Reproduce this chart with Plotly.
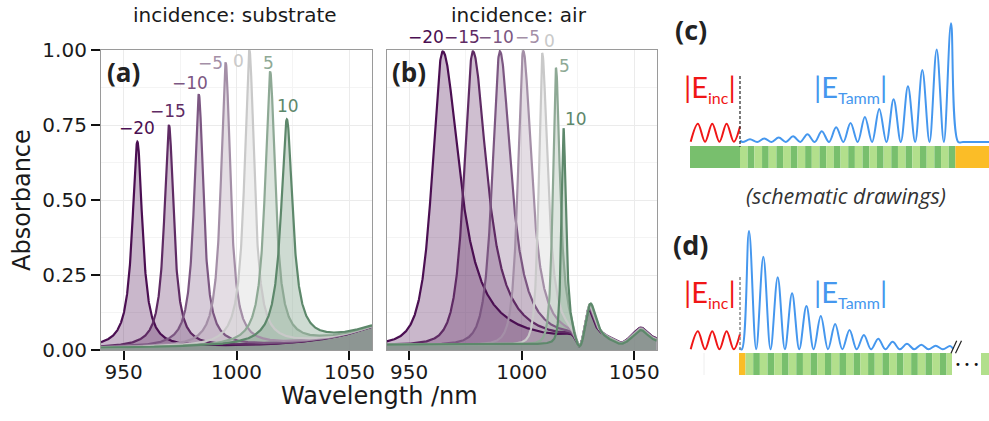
import numpy as np
import plotly.graph_objects as go

# ---------------- data ----------------
angles = [-20, -15, -10, -5, 0, 5, 10]
angle_labels = ["−20", "−15", "−10", "−5", "0", "5", "10"]
line_colors = ["#4b0f52", "#5f2b64", "#7c5782", "#a48fa7", "#c9c9c9", "#8ea995", "#5d886b"]

x_ticks = [950, 1000, 1050]
x_minor = [975, 1025]
y_ticks = [0.0, 0.25, 0.5, 0.75, 1.0]
y_ticktext = ["0.00", "0.25", "0.50", "0.75", "1.00"]
y_minor = [0.125, 0.375, 0.625, 0.875]

# (a) incidence: substrate  -- resonance
sub_center = [956.1, 970.1, 983.3, 995.2, 1005.7, 1014.9, 1022.3]
sub_peak = [0.694, 0.750, 0.852, 0.958, 1.000, 0.928, 0.769]
sub_hwhm = [2.7, 2.5, 2.5, 2.5, 2.6, 2.7, 3.1]
sub_base = 0.004
sub_bg_center, sub_bg_width, sub_bg_height = 1075.0, 25.0, 0.10

# (b) incidence: air
air_center = [964.9, 978.3, 990.3, 1000.7, 1009.1, 1015.2, 1018.6]
air_peak = [0.995, 0.995, 0.995, 0.995, 0.987, 0.936, 0.731]
air_width_left = [8.5, 7.0, 6.0, 4.2, 2.7, 2.4, 1.7]
air_width_right = [9.0, 7.5, 6.0, 4.5, 3.0, 2.2, 1.3]
air_side_center = [1029.3, 1029.5, 1029.7, 1029.9, 1030.1, 1030.3, 1030.6]
air_side_height = [0.11, 0.11, 0.11, 0.11, 0.115, 0.12, 0.13]
air_side_width = 3.0
air_base = 0.018
air_notch1_center, air_notch1_depth, air_notch1_width = 1025.7, 0.85, 2.5
air_notch2_center, air_notch2_depth, air_notch2_width = 1044.5, 0.5, 4.0
air_bump_center, air_bump_height, air_bump_width = 1053.0, 0.045, 4.0

# schematic field envelopes (relative peak heights)
c_field_rel = [0.023, 0.029, 0.037, 0.048, 0.065, 0.090, 0.124, 0.160, 0.211,
               0.279, 0.361, 0.470, 0.606, 0.780, 1.000]
d_field_rel = [1.000, 0.783, 0.609, 0.473, 0.366, 0.281, 0.214, 0.163, 0.121,
               0.090, 0.064, 0.047, 0.039, 0.030, 0.028]
inc_wave_rel = [0, 1, 0, 1, 0, 1, 0, 0.85]

# ---------------- spectra ----------------
wl = np.arange(940.0, 1060.001, 0.1)


def lor(x, c, g):
    return 1.0 / (1.0 + ((x - c) / g) ** 2)


def sub_bg(x):
    return sub_bg_height * lor(x, sub_bg_center, sub_bg_width)


sub_curves = []
for c, p, g in zip(sub_center, sub_peak, sub_hwhm):
    a = p - sub_base - sub_bg(c)
    sub_curves.append(sub_base + sub_bg(wl) + a * lor(wl, c, g))

notch = (1 - air_notch1_depth * np.exp(-((wl - air_notch1_center) / air_notch1_width) ** 2)) * \
        (1 - air_notch2_depth * np.exp(-((wl - air_notch2_center) / air_notch2_width) ** 2))
bump = air_bump_height * lor(wl, air_bump_center, air_bump_width)
air_curves = []
for c, p, gl, gr, sc, sh in zip(air_center, air_peak, air_width_left, air_width_right,
                                air_side_center, air_side_height):
    main = np.where(wl < c, lor(wl, c, gl) ** 2, lor(wl, c, gr))
    y = (air_base + (p - air_base) * main + sh * lor(wl, sc, air_side_width)) * notch + bump
    air_curves.append(y)


def rgba(hexc, a):
    h = hexc.lstrip("#")
    return "rgba(%d,%d,%d,%.2f)" % (int(h[0:2], 16), int(h[2:4], 16), int(h[4:6], 16), a)


fig = go.Figure()

for curves, xa, ya in [(sub_curves, "x", "y"), (air_curves, "x2", "y2")]:
    for y, col in zip(curves, line_colors):
        fig.add_trace(go.Scatter(x=wl, y=y, mode="lines", line=dict(width=0),
                                 fill="tozeroy", fillcolor=rgba(col, 0.30),
                                 xaxis=xa, yaxis=ya, hoverinfo="skip", showlegend=False))
    for y, col in zip(curves, line_colors):
        fig.add_trace(go.Scatter(x=wl, y=y, mode="lines", line=dict(width=2.2, color=col),
                                 xaxis=xa, yaxis=ya, showlegend=False))

# ---------------- schematic (pixel-space overlay axes) ----------------
period = 14.36
blue = "#4597ee"
red = "#f01616"
dark_g = "#78bf6d"
light_g = "#b2df8c"
orange = "#fbbd27"


def field_curve(x_first_peak, base_y, scale, rel, x_start, y_start, x_end_pts, y_end_pts):
    xs = [x_start, x_first_peak - period / 2]
    ys = [y_start, base_y]
    for i, r in enumerate(rel):
        xp = x_first_peak + i * period
        xs += [xp, xp + period / 2]
        ys += [base_y - scale * r, base_y]
    xs += x_end_pts
    ys += y_end_pts
    return xs, ys


# (c)
cx, cy = field_curve(750.0, 142.0, 118.7, c_field_rel, 740.0, 140.6, [963, 989], [142, 142])
fig.add_trace(go.Scatter(x=cx, y=cy, mode="lines", line=dict(color=blue, width=2, shape="spline", smoothing=1.0),
                         xaxis="x3", yaxis="y3", showlegend=False, hoverinfo="skip"))
# (d)
dx, dy = field_curve(749.0, 349.3, 118.3, d_field_rel, 739.3, 348.3, [], [])
fig.add_trace(go.Scatter(x=dx[:-1] + [953.0], y=dy[:-1] + [348.6], mode="lines",
                         line=dict(color=blue, width=2, shape="spline", smoothing=1.0),
                         xaxis="x3", yaxis="y3", showlegend=False, hoverinfo="skip"))

# incident waves
for base_y in [141.7, 349.3]:
    wx = [690.7 + i * period / 2 for i in range(len(inc_wave_rel) - 1)] + [740.0]
    wy = [base_y - 18.0 * r for r in inc_wave_rel]
    fig.add_trace(go.Scatter(x=wx, y=wy, mode="lines",
                             line=dict(color=red, width=2, shape="spline", smoothing=1.0),
                             xaxis="x3", yaxis="y3", showlegend=False, hoverinfo="skip"))

shapes = []


def rect(x0, x1, y0, y1, col):
    shapes.append(dict(type="rect", xref="x3", yref="y3", x0=x0, x1=x1, y0=y0, y1=y1,
                       fillcolor=col, line=dict(width=0), layer="below"))


# (c) bar
rect(690, 740, 146, 168, dark_g)
for k in range(15):
    x0 = 740 + k * period
    rect(x0, x0 + 7.7, 146, 168, light_g)
    rect(x0 + 7.7, x0 + period, 146, 168, dark_g)
rect(740 + 15 * period, 989, 146, 168, orange)

# (d) bar
rect(739, 745.5, 353, 375, orange)
k = 0
while 745.5 + k * period < 952:
    x0 = 745.5 + k * period
    rect(x0, min(x0 + 7.7, 952), 353, 375, light_g)
    if x0 + 7.7 < 952:
        rect(x0 + 7.7, min(x0 + period, 952), 353, 375, dark_g)
    k += 1
rect(981, 989, 353, 375, light_g)
shapes.append(dict(type="line", xref="x3", yref="y3", x0=704, x1=704, y0=353, y1=375,
                   line=dict(color="#eeeeee", width=1)))

# dashed interface lines
shapes.append(dict(type="line", xref="x3", yref="y3", x0=740, x1=740, y0=76, y1=147,
                   line=dict(color="#333333", width=1.3, dash="3px,2px")))
shapes.append(dict(type="line", xref="x3", yref="y3", x0=740, x1=740, y0=277, y1=350,
                   line=dict(color="#888888", width=1.5, dash="3px,2px")))
# break marks
shapes.append(dict(type="line", xref="x3", yref="y3", x0=951, x1=956.7, y0=353.3, y1=340.7,
                   line=dict(color="#222222", width=1.2)))
shapes.append(dict(type="line", xref="x3", yref="y3", x0=955.5, x1=961.5, y0=353.3, y1=340.7,
                   line=dict(color="#222222", width=1.2)))

# ---------------- annotations ----------------
ann = []
PF = "DejaVu Sans"
SF = "Open Sans"
LF = "Lato"


def txt(x, y, t, size, color="#1a1a1a", family=PF, xanchor="center", yanchor="middle", angle=0):
    ann.append(dict(x=x, y=y, xref="x3", yref="y3", text=t, showarrow=False, textangle=angle,
                    font=dict(family=family, size=size, color=color),
                    xanchor=xanchor, yanchor=yanchor))


txt(234.5, 15, "incidence: substrate", 20)
txt(519, 15, "incidence: air", 20)
txt(22, 200, "Absorbance", 24, angle=-90)
txt(379, 396, "Wavelength /nm", 24)
txt(105, 72, "<b>(a)</b>", 26, color="#222222", family=SF, xanchor="left")
txt(390, 72, "<b>(b)</b>", 26, color="#222222", family=SF, xanchor="left")
txt(673, 29, "<b>(c)</b>", 27, color="#222222", family=SF, xanchor="left")
txt(671, 244, "<b>(d)</b>", 27, color="#222222", family=SF, xanchor="left")
txt(846, 195, "<i>(schematic drawings)</i>", 21.5, color="#333333", family=SF)
txt(967, 364, "• • •", 10, color="#111111")

inc_text = "|E<sub><span style='font-size:16px'>inc</span></sub>|"
tamm_text = "|E<sub><span style='font-size:16px'>Tamm</span></sub>|"
txt(682, 88, inc_text, 29, color=red, family=LF, xanchor="left")
txt(812, 88, tamm_text, 29, color=blue, family=LF, xanchor="left")
txt(682, 292.5, inc_text, 29, color=red, family=LF, xanchor="left")
txt(812, 292.5, tamm_text, 29, color=blue, family=LF, xanchor="left")

sub_label_shift = [(-0.7, 13.7), (-1, 14), (-8.7, 11.3), (-15, 0), (-11, -11), (-2, 8.5), (1.5, 13)]
air_label_shift = [(-16.6, 14.7), (-10.8, 14.7), (-4, 14.7), (4.7, 14.7), (7, 13), (9, 3), (12, 11.7)]
for xa, ya, cen, pk, shifts in [("x", "y", sub_center, sub_peak, sub_label_shift),
                                ("x2", "y2", air_center, air_peak, air_label_shift)]:
    for c, p, (sx, sy), lab, col in zip(cen, pk, shifts, angle_labels, line_colors):
        ann.append(dict(x=c, y=p, xref=xa, yref=ya, text=lab, showarrow=False,
                        xshift=sx, yshift=sy, font=dict(family=PF, size=17, color=col),
                        xanchor="center", yanchor="middle"))

# ---------------- layout ----------------
W, H = 989, 421
y_dom = [1 - 350 / H, 1 - 50 / H]
common_x = dict(range=[940, 1060], tickvals=x_ticks, ticks="outside", ticklen=9, tickwidth=1.6,
                tickcolor="#111111", showline=True, mirror=True, linecolor="#9a9a9a", linewidth=1.2,
                showgrid=True, gridcolor="#ebebeb", gridwidth=1.2, zeroline=False, automargin=False,
                ticklabelstandoff=-5,
                minor=dict(tickvals=x_minor, showgrid=True, gridcolor="#f4f4f4", gridwidth=0.8, ticks=""),
                tickfont=dict(family=PF, size=20, color="#1a1a1a"), fixedrange=True)
common_y = dict(range=[0, 1.0], tickvals=y_ticks, ticktext=y_ticktext, showline=True, mirror=True,
                linecolor="#9a9a9a", linewidth=1.2, showgrid=True, gridcolor="#ebebeb", gridwidth=1.2,
                zeroline=False, domain=y_dom, automargin=False,
                minor=dict(tickvals=y_minor, showgrid=True, gridcolor="#f4f4f4", gridwidth=0.8, ticks=""),
                tickfont=dict(family=PF, size=20, color="#1a1a1a"), fixedrange=True)

fig.update_layout(
    width=W, height=H, margin=dict(l=0, r=0, t=0, b=0, pad=0, autoexpand=False),
    paper_bgcolor="white", plot_bgcolor="rgba(0,0,0,0)",
    xaxis=dict(common_x, domain=[101 / W, 372 / W], anchor="y"),
    yaxis=dict(common_y, anchor="x", ticks="outside", ticklen=9, tickwidth=1.6, tickcolor="#111111"),
    xaxis2=dict(common_x, domain=[386.7 / W, 656.7 / W], anchor="y2"),
    yaxis2=dict(common_y, anchor="x2", ticks="", showticklabels=False),
    xaxis3=dict(domain=[0, 1], range=[0, W], visible=False, anchor="y3", fixedrange=True, automargin=False),
    yaxis3=dict(domain=[0, 1], range=[H, 0], visible=False, anchor="x3", fixedrange=True, automargin=False),
    shapes=shapes, annotations=ann, showlegend=False,
)

fig.write_html("out.html", config={"displayModeBar": False},
               post_script="document.body.style.margin='0';document.body.style.padding='0';"
                           "document.body.style.overflow='hidden';")
